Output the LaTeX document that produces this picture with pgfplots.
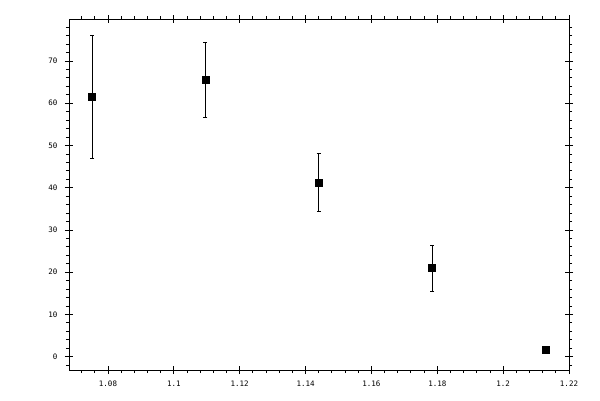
\documentclass[border=0pt]{standalone}
\usepackage{pgfplots}
\pgfplotsset{compat=1.18}
\usepackage{fontspec}
\setmainfont{DejaVu Sans Mono}
\begin{document}
\begin{tikzpicture}
\begin{axis}[
  scale only axis,
  width=500pt, height=351pt,
  xmin=1.06816, xmax=1.22,
  ymin=-3.15, ymax=79.95,
  xtick={1.08,1.1,1.12,1.14,1.16,1.18,1.2,1.22},
  xticklabels={1.08,1.1,1.12,1.14,1.16,1.18,1.2,1.22},
  ytick={0,10,20,30,40,50,60,70},
  minor xtick={1.072,1.076,1.084,1.088,1.092,1.096,1.104,1.108,1.112,1.116,
    1.124,1.128,1.132,1.136,1.144,1.148,1.152,1.156,1.164,1.168,1.172,1.176,
    1.184,1.188,1.192,1.196,1.204,1.208,1.212,1.216},
  minor ytick={-2,2,4,6,8,12,14,16,18,22,24,26,28,32,34,36,38,42,44,46,48,
    52,54,56,58,62,64,66,68,72,74,76,78},
  extra x ticks={1.08,1.1,1.12,1.14,1.16,1.18,1.2,1.22},
  extra x tick labels={},
  extra y ticks={0,10,20,30,40,50,60,70},
  extra y tick labels={},
  extra tick style={tick align=inside},
  tick align=outside,
  major tick length=4pt,
  minor tick length=3pt,
  tick style={black, line width=0.9pt},
  axis line style={line width=0.9pt},
  tick label style={font=\fontsize{7.5}{8}\selectfont},
  xticklabel style={yshift=-3pt},
  yticklabel style={xshift=-4pt},
  /pgf/number format/assume math mode=true,
  clip=false,
]
\addplot[only marks, mark=square*, mark size=3.5pt, black,
  error bars/.cd, y dir=both, y explicit,
  error bar style={line width=0.9pt},
  error mark options={rotate=90, mark size=2pt, line width=0.9pt}]
coordinates {
  (1.0752, 61.5) +- (0, 14.5)
  (1.1096, 65.6) +- (0, 8.9)
  (1.1440, 41.3) +- (0, 6.9)
  (1.1784, 21.0) +- (0, 5.45)
  (1.2128, 1.6) +- (0, 0)
};
\end{axis}
\path[use as bounding box] (-69pt,-30pt) rectangle (531pt,370pt);
\end{tikzpicture}
\end{document}
